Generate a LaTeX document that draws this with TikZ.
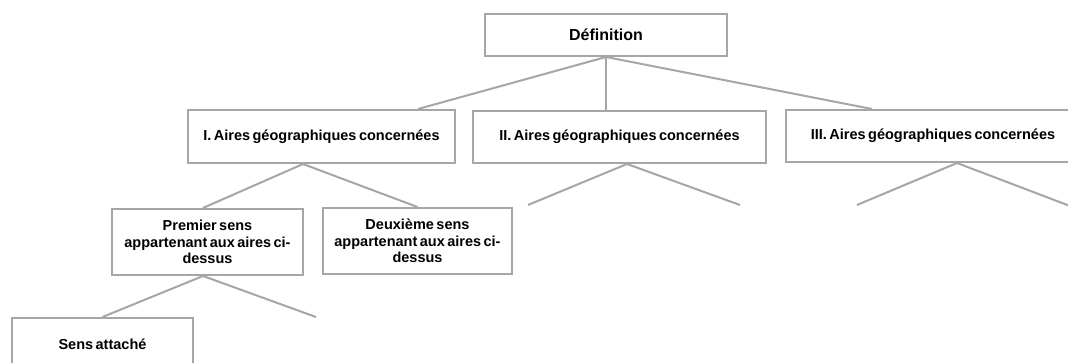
\documentclass[tikz,border=0pt]{standalone}
\usepackage{fontspec}
\setmainfont{Liberation Sans}
\usetikzlibrary{positioning}
\definecolor{boxgray}{RGB}{166,166,166}
\newcommand\ideafont{\bfseries\fontsize{14.5}{16.5}\selectfont\spaceskip=0.17em\relax}
\tikzset{
  idea/.style={draw=boxgray,line width=2pt,inner sep=0pt,align=center,font=\ideafont},
  branch/.style={draw=boxgray,line width=2pt}
}

\begin{document}
\begin{tikzpicture}[x=1pt,y=-1pt]
  \clip (0,0) rectangle (1068,363);
  \node[idea,minimum width=242pt,minimum height=42pt,font=\bfseries\fontsize{16}{18}\selectfont](defn) at (606,35) {Définition};
  \node[idea,minimum width=267pt,minimum height=53pt](aireI) at (321.5,136.5) {I. Aires géographiques concernées};
  \node[idea,minimum width=293pt,minimum height=52pt](aireII) at (619.5,137) {II. Aires géographiques concernées};
  \node[idea,minimum width=294pt,minimum height=52pt](aireIII) at (933,136) {III. Aires géographiques concernées};
  \node[idea,minimum width=191pt,minimum height=66pt](premier) at (207.5,242) {Premier sens\\appartenant aux aires ci-\\dessus};
  \node[idea,minimum width=189pt,minimum height=66pt](deuxieme) at (417.5,241) {Deuxième sens\\appartenant aux aires ci-\\dessus};
  \node[idea,minimum width=181pt,minimum height=53pt](attache) at (102.5,344.5) {Sens attaché};
  \coordinate (endIIa) at (528,205);
  \coordinate (endIIb) at (740,205);
  \coordinate (endIIIa) at (857,205);
  \coordinate (endIIIb) at (1070,206);
  \coordinate (endPb) at (316,317);
  \draw[branch] (defn.south)--([xshift=96.5pt]aireI.north);
  \draw[branch] (defn.south)--([xshift=-13.5pt]aireII.north);
  \draw[branch] (defn.south)--([xshift=-61pt]aireIII.north);
  \draw[branch] ([xshift=-18.5pt]aireI.south)--([xshift=-4.5pt]premier.north);
  \draw[branch] ([xshift=-18.5pt]aireI.south)--(deuxieme.north);
  \draw[branch] ([xshift=7.5pt]aireII.south)--(endIIa);
  \draw[branch] ([xshift=7.5pt]aireII.south)--(endIIb);
  \draw[branch] ([xshift=24pt]aireIII.south)--(endIIIa);
  \draw[branch] ([xshift=24pt]aireIII.south)--(endIIIb);
  \draw[branch] ([xshift=-4.5pt]premier.south)--(attache.north);
  \draw[branch] ([xshift=-4.5pt]premier.south)--(endPb);
\end{tikzpicture}
\end{document}
